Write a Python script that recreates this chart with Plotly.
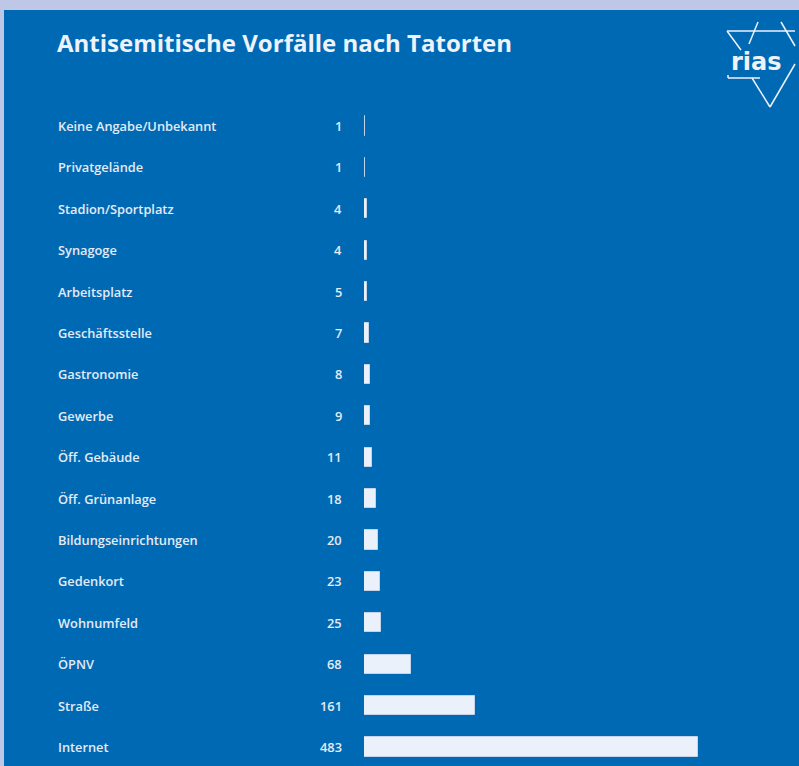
import plotly.graph_objects as go

# Data: antisemitic incidents by location
categories = [
    "Keine Angabe/Unbekannt", "Privatgelände", "Stadion/Sportplatz", "Synagoge",
    "Arbeitsplatz", "Geschäftsstelle", "Gastronomie", "Gewerbe", "Öff. Gebäude",
    "Öff. Grünanlage", "Bildungseinrichtungen", "Gedenkort", "Wohnumfeld",
    "ÖPNV", "Straße", "Internet",
]
values = [1, 1, 4, 4, 5, 7, 8, 9, 11, 18, 20, 23, 25, 68, 161, 483]
title = "Antisemitische Vorfälle nach Tatorten"

W, H = 799, 766
BLUE = "#0069B4"
FRAME = "#BEC8E6"
TEXT = "#EEF2F9"
LABEL = "#E4EBF5"
BAR = "#EAF1FB"
BAR_EDGE = "#C3D3EA"
FONT = "Open Sans"


def px(x):
    return x / W


def py(y):
    return 1 - y / H


fig = go.Figure()

fig.add_trace(go.Bar(
    x=values,
    y=categories,
    orientation="h",
    width=0.46,
    marker=dict(color=BAR, line=dict(color=BAR_EDGE, width=1)),
    hoverinfo="x+y",
))

# category names (left aligned) and their counts (right aligned)
annotations = []
for cat, val in zip(categories, values):
    annotations.append(dict(
        x=px(56), xref="paper", y=cat, yref="y", text=cat, showarrow=False,
        xanchor="left", yanchor="middle",
        font=dict(family=FONT, size=12.8, color=LABEL, weight=600),
    ))
    annotations.append(dict(
        x=px(344), xref="paper", y=cat, yref="y", text=str(val), showarrow=False,
        xanchor="right", yanchor="middle",
        font=dict(family=FONT, size=12.8, color=LABEL, weight=600),
    ))

annotations.append(dict(
    x=px(55), xref="paper", y=py(42), yref="paper", text=f"<b>{title}</b>",
    showarrow=False, xanchor="left", yanchor="middle",
    font=dict(family=FONT, size=24, color=TEXT),
))

# logo wordmark
annotations.append(dict(
    x=px(756), xref="paper", y=py(62), yref="paper", text="<b>rias</b>",
    showarrow=False, xanchor="center", yanchor="middle",
    font=dict(family="DejaVu Sans", size=24, color=TEXT),
))

shapes = [
    # blue panel over the light frame
    dict(type="rect", xref="paper", yref="paper", x0=px(4), x1=1, y0=0, y1=py(10),
         fillcolor=BLUE, line=dict(width=0), layer="below"),
]

# logo strokes (stylised star)
logo_lines = [
    ((727, 31), (795, 31)),
    ((727, 31), (741, 50)),
    ((758, 22), (749, 44)),
    ((781, 22), (795, 46)),
    ((728, 75), (728, 78)),
    ((728, 78), (760, 78)),
    ((752, 78), (770, 107)),
    ((770, 107), (795, 64)),
]
for (x0, y0), (x1, y1) in logo_lines:
    shapes.append(dict(
        type="line", xref="paper", yref="paper",
        x0=px(x0), y0=py(y0), x1=px(x1), y1=py(y1),
        line=dict(color=TEXT, width=1.5),
    ))

# row i centred at pixel 126 + 41.4*i
span = 15 * H / (747 - 126)
top = -126 * span / H
bottom = top + span

fig.update_layout(
    width=W, height=H,
    margin=dict(l=0, r=0, t=0, b=0),
    paper_bgcolor=FRAME,
    plot_bgcolor="rgba(0,0,0,0)",
    showlegend=False,
    bargap=0,
    xaxis=dict(domain=[px(364), px(698)], range=[0, 483], visible=False,
               fixedrange=True),
    yaxis=dict(domain=[0, 1], type="category", categoryarray=categories,
               range=[bottom, top], visible=False, fixedrange=True),
    annotations=annotations,
    shapes=shapes,
)

fig.write_html("out.html")
